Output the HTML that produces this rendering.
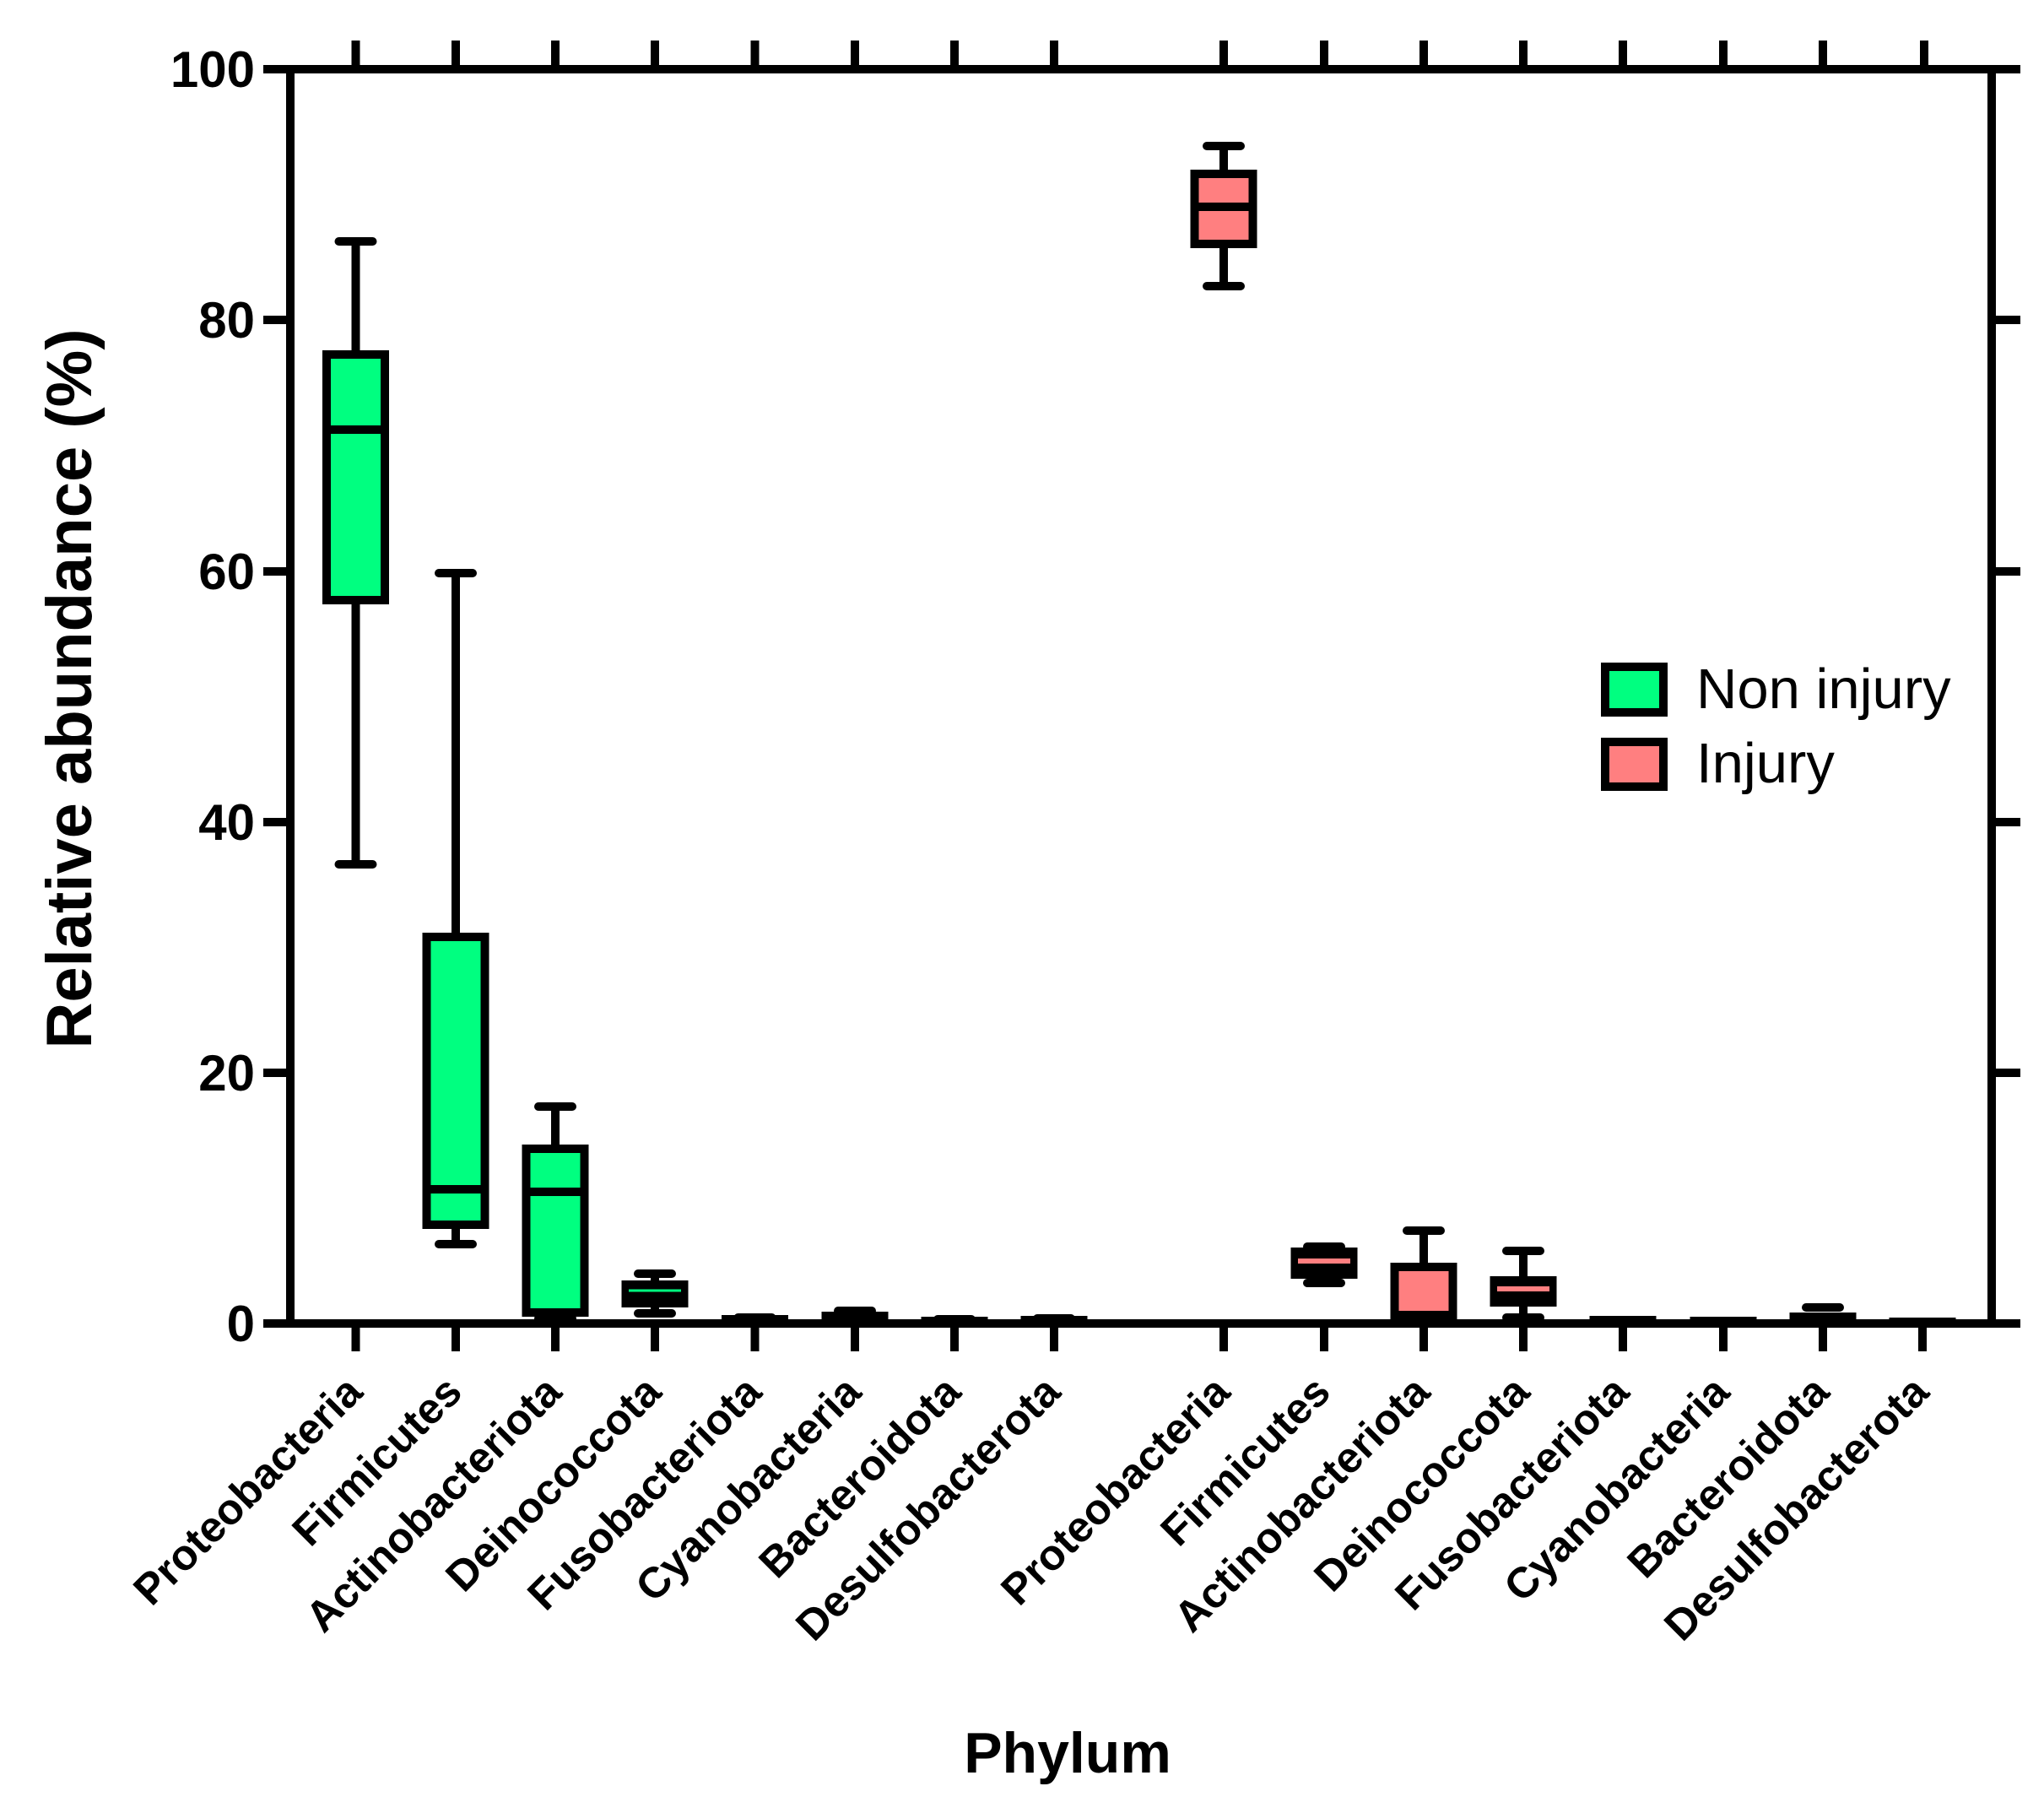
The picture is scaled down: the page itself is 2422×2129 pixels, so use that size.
<!DOCTYPE html>
<html><head><meta charset="utf-8"><style>
html,body{margin:0;padding:0;background:#fff}
svg{display:block}
text{font-family:"Liberation Sans",Arial,sans-serif;fill:#000}
</style></head><body>
<svg width="2422" height="2129" viewBox="0 0 2422 2129" xmlns="http://www.w3.org/2000/svg">
<g stroke="#000" stroke-width="10" fill="none">
<line x1="312" y1="82" x2="2394" y2="82"/>
<line x1="312" y1="1568" x2="2394" y2="1568"/>
<line x1="344" y1="77" x2="344" y2="1573"/>
<line x1="2360" y1="77" x2="2360" y2="1573"/>
<line x1="312" y1="379" x2="344" y2="379"/>
<line x1="312" y1="677" x2="344" y2="677"/>
<line x1="312" y1="974" x2="344" y2="974"/>
<line x1="312" y1="1271" x2="344" y2="1271"/>
<line x1="2360" y1="379" x2="2394" y2="379"/>
<line x1="2360" y1="677" x2="2394" y2="677"/>
<line x1="2360" y1="974" x2="2394" y2="974"/>
<line x1="2360" y1="1271" x2="2394" y2="1271"/>
</g>
<g stroke="#000" stroke-width="10">
<path d="M421.5 1568V1601M540 1568V1601M658 1568V1601M776 1568V1601M894.5 1568V1601M1013 1568V1601M1131 1568V1601M1249 1568V1601M1450 1568V1601M1569 1568V1601M1687 1568V1601M1805 1568V1601M1923 1568V1601M2042 1568V1601M2160 1568V1601M2278 1568V1601"/>
<path d="M421.5 82V48M540 82V48M658 82V48M776 82V48M894.5 82V48M1013 82V48M1131 82V48M1249 82V48M1450 82V48M1569 82V48M1687 82V48M1805 82V48M1923 82V48M2042 82V48M2160 82V48M2280 82V48"/>
</g>

<g stroke="#000" stroke-width="10" stroke-linecap="round">
<g>
<path d="M421.5 286V420M421.5 711V1024M401.5 286H441.5M401.5 1024H441.5"/>
<rect x="387" y="420" width="69" height="291" fill="#00FF80" stroke-linecap="butt"/>
<line x1="387" y1="509" x2="456" y2="509" stroke-linecap="butt"/>
</g>
<g>
<path d="M540 679V1110M540 1451V1474M520 679H560M520 1474H560"/>
<rect x="505.5" y="1110" width="69" height="341" fill="#00FF80" stroke-linecap="butt"/>
<line x1="505.5" y1="1409" x2="574.5" y2="1409" stroke-linecap="butt"/>
</g>
<g>
<path d="M658 1311V1361M638 1311H678M638 1562H678"/>
<rect x="623.5" y="1361" width="69" height="194" fill="#00FF80" stroke-linecap="butt"/>
<line x1="623.5" y1="1412" x2="692.5" y2="1412" stroke-linecap="butt"/>
</g>
<g>
<path d="M776 1509V1522M776 1544V1556M756 1509H796M756 1556H796"/>
<rect x="741.5" y="1522" width="69" height="22" fill="#000" stroke-linecap="butt"/>
<line x1="745" y1="1529" x2="807" y2="1529" stroke="#00FF80" stroke-width="3" stroke-linecap="butt"/>
</g>
<path d="M874.5 1561H914.5"/>
<rect x="860" y="1563" width="69" height="4" fill="#000" stroke-linecap="butt"/>
<path d="M993 1553H1033"/>
<rect x="978.5" y="1559" width="69" height="7" fill="#000" stroke-linecap="butt"/>
<path d="M1111 1563H1151"/>
<rect x="1096.5" y="1565" width="69" height="2" fill="#000" stroke-linecap="butt"/>
<path d="M1229 1562H1269"/>
<rect x="1214.5" y="1564" width="69" height="3" fill="#000" stroke-linecap="butt"/>

<g>
<path d="M1450 173V205M1450 289V339M1430 173H1470M1430 339H1470"/>
<rect x="1415.5" y="206" width="69" height="83" fill="#FF7F80" stroke-linecap="butt"/>
<line x1="1415.5" y1="245" x2="1484.5" y2="245" stroke-linecap="butt"/>
</g>
<g>
<path d="M1549 1477H1589M1549 1520H1589"/>
<rect x="1534.5" y="1483" width="69" height="27" fill="#000" stroke-linecap="butt"/>
<line x1="1538" y1="1494" x2="1600" y2="1494" stroke="#FF7F80" stroke-width="6" stroke-linecap="butt"/>
</g>
<g>
<path d="M1687 1458V1501M1667 1458H1707M1667 1563H1707"/>
<rect x="1652.5" y="1501" width="69" height="57" fill="#FF7F80" stroke-linecap="butt"/>
<line x1="1658" y1="1547" x2="1716" y2="1547" stroke="#FF7F80" stroke-width="2" stroke-linecap="butt"/>
</g>
<g>
<path d="M1805 1482V1517M1805 1543V1561M1785 1482H1825M1785 1561H1825"/>
<rect x="1770.5" y="1517" width="69" height="26" fill="#000" stroke-linecap="butt"/>
<line x1="1774" y1="1527" x2="1836" y2="1527" stroke="#FF7F80" stroke-width="6" stroke-linecap="butt"/>
</g>
<rect x="1888.5" y="1564" width="69" height="2" fill="#000" stroke-linecap="butt"/>
<rect x="2007.5" y="1565" width="69" height="2" fill="#000" stroke-linecap="butt"/>
<g>
<path d="M2140 1549H2180"/>
<rect x="2125.5" y="1560" width="69" height="6" fill="#000" stroke-linecap="butt"/>
</g>
<rect x="2243.5" y="1566" width="69" height="1" fill="#000" stroke-linecap="butt"/>
</g>

<g font-size="60" font-weight="bold" text-anchor="end">
<text x="302" y="103">100</text>
<text x="302" y="400">80</text>
<text x="302" y="698">60</text>
<text x="302" y="995">40</text>
<text x="302" y="1292">20</text>
<text x="302" y="1589">0</text>
</g>

<text transform="translate(108,816) rotate(-90)" font-size="76" font-weight="bold" text-anchor="middle">Relative abundance (%)</text>

<g font-size="51" font-weight="bold" text-anchor="end">
<text transform="translate(432,1652) rotate(-45)">Proteobacteria</text>
<text transform="translate(550,1652) rotate(-45)">Firmicutes</text>
<text transform="translate(668,1652) rotate(-45)">Actinobacteriota</text>
<text transform="translate(786,1652) rotate(-45)">Deinococcota</text>
<text transform="translate(905,1652) rotate(-45)">Fusobacteriota</text>
<text transform="translate(1023,1652) rotate(-45)">Cyanobacteria</text>
<text transform="translate(1141,1652) rotate(-45)">Bacteroidota</text>
<text transform="translate(1259,1652) rotate(-45)">Desulfobacterota</text>
<text transform="translate(1460,1652) rotate(-45)">Proteobacteria</text>
<text transform="translate(1579,1652) rotate(-45)">Firmicutes</text>
<text transform="translate(1697,1652) rotate(-45)">Actinobacteriota</text>
<text transform="translate(1815,1652) rotate(-45)">Deinococcota</text>
<text transform="translate(1933,1652) rotate(-45)">Fusobacteriota</text>
<text transform="translate(2052,1652) rotate(-45)">Cyanobacteria</text>
<text transform="translate(2170,1652) rotate(-45)">Bacteroidota</text>
<text transform="translate(2288,1652) rotate(-45)">Desulfobacterota</text>
</g>

<text x="1265" y="2100" font-size="68" font-weight="bold" text-anchor="middle">Phylum</text>

<rect x="1902" y="790" width="69" height="54" fill="#00FF80" stroke="#000" stroke-width="10"/>
<rect x="1902" y="879" width="69" height="53" fill="#FF7F80" stroke="#000" stroke-width="10"/>
<text x="2010" y="839" font-size="67">Non injury</text>
<text x="2010" y="927" font-size="67">Injury</text>
</svg>
</body></html>
